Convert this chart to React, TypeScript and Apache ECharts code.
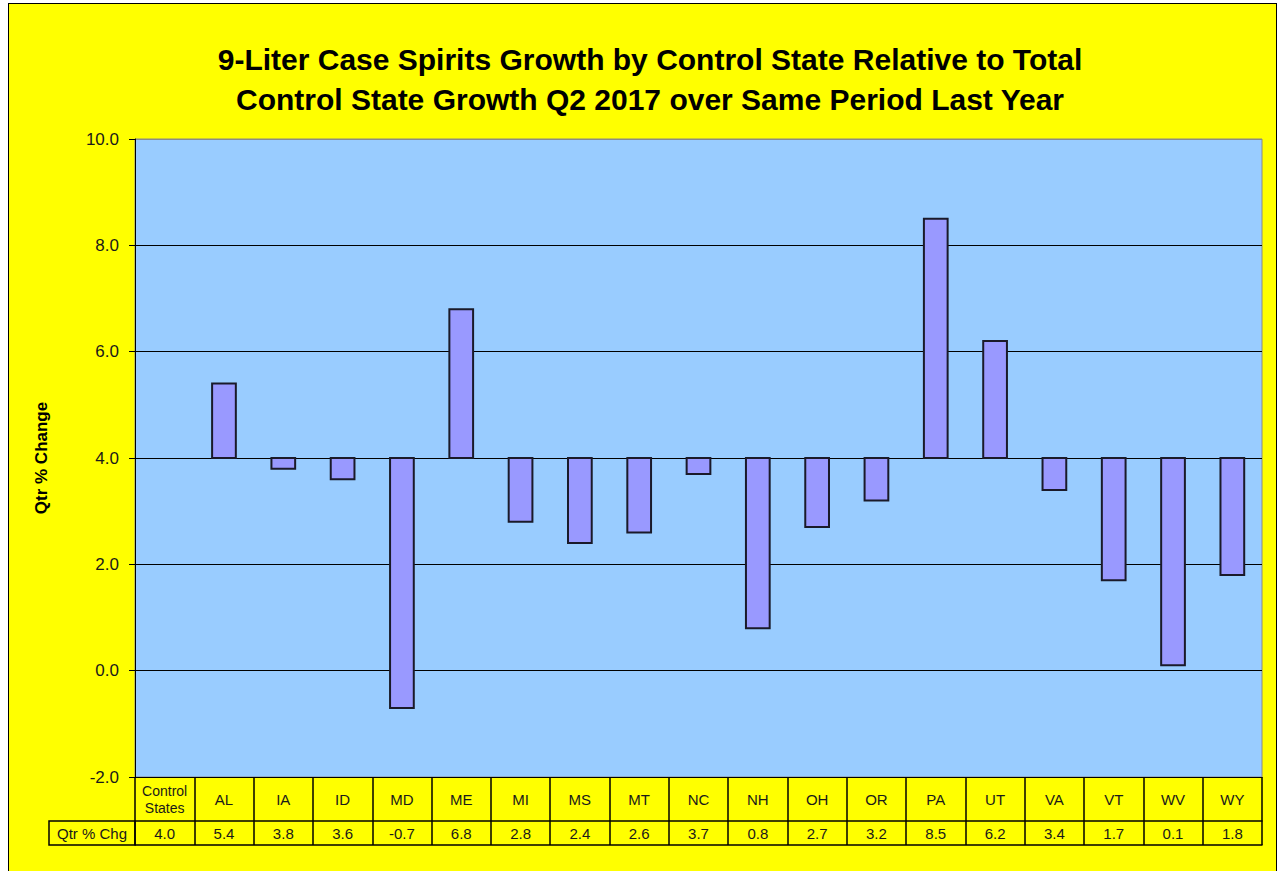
import React, { useEffect, useRef } from "react";
import * as echarts from "echarts";

const TITLE = "9-Liter Case Spirits Growth by Control State Relative to Total\nControl State Growth Q2 2017 over Same Period Last Year";
const Y_NAME = "Qtr % Change";
const ROW_LABEL = "Qtr % Chg";
const categories = ["Control\nStates", "AL", "IA", "ID", "MD", "ME", "MI", "MS", "MT", "NC", "NH", "OH", "OR", "PA", "UT", "VA", "VT", "WV", "WY"];
const values = [4.0, 5.4, 3.8, 3.6, -0.7, 6.8, 2.8, 2.4, 2.6, 3.7, 0.8, 2.7, 3.2, 8.5, 6.2, 3.4, 1.7, 0.1, 1.8];
const BASELINE = values[0];
const Y_MIN = -2;
const Y_MAX = 10;
const Y_STEP = 2;

const FONT = "'Liberation Sans', Arial, sans-serif";
const GRID_LEFT = 135;
const GRID_TOP = 139;
const GRID_RIGHT = 16;
const GRID_BOTTOM = 94;
const ROW1_H = 44;
const ROW2_H = 24;
const LABEL_CELL_W = 86;

export default function App() {
  const ref = useRef<HTMLDivElement>(null);
  useEffect(() => {
    if (!ref.current) return;
    const chart = echarts.init(ref.current, null, { renderer: "svg" });
    const H = 871;
    const axisY = H - GRID_BOTTOM;
    const option: any = {
      animation: false,
      backgroundColor: "transparent",
      textStyle: { fontFamily: FONT },
      title: {
        text: TITLE,
        left: 645,
        textAlign: "center",
        top: 34,
        textStyle: { fontFamily: FONT, fontSize: 30, fontWeight: "bold", color: "#000", lineHeight: 40 },
      },
      grid: {
        left: GRID_LEFT,
        top: GRID_TOP,
        right: GRID_RIGHT,
        bottom: GRID_BOTTOM,
        show: true,
        backgroundColor: "#99CCFF",
        borderColor: "#8a8a8a",
        borderWidth: 1,
      },
      xAxis: [
        {
          type: "category",
          data: categories,
          position: "bottom",
          boundaryGap: true,
          axisLine: { show: true, onZero: false, lineStyle: { color: "#000", width: 1 } },
          axisTick: { show: true, interval: 0, length: ROW1_H, lineStyle: { color: "#000", width: 1.5 } },
          axisLabel: {
            interval: 0,
            margin: ROW1_H / 2,
            verticalAlign: "middle",
            fontSize: 15,
            color: "#1a1a1a",
            fontFamily: FONT,
            lineHeight: 17,
            rich: { s: { fontSize: 14, lineHeight: 17, fontFamily: FONT, color: "#1a1a1a" } },
            formatter: (v: string) => (v.indexOf("\n") >= 0 ? v.split("\n").map((p) => "{s|" + p + "}").join("\n") : v),
          },
        },
        {
          type: "category",
          data: values.map((v) => v.toFixed(1)),
          position: "bottom",
          offset: ROW1_H,
          boundaryGap: true,
          axisLine: { show: true, onZero: false, lineStyle: { color: "#000", width: 1.5 } },
          axisTick: { show: true, interval: 0, length: ROW2_H, lineStyle: { color: "#000", width: 1.5 } },
          axisLabel: {
            interval: 0,
            margin: ROW2_H / 2,
            verticalAlign: "middle",
            fontSize: 15,
            color: "#1a1a1a",
            fontFamily: FONT,
          },
        },
        {
          type: "category",
          data: categories,
          position: "bottom",
          offset: ROW1_H + ROW2_H,
          axisLine: { show: true, onZero: false, lineStyle: { color: "#000", width: 1.5 } },
          axisTick: { show: false },
          axisLabel: { show: false },
        },
      ],
      yAxis: {
        type: "value",
        min: Y_MIN,
        max: Y_MAX,
        interval: Y_STEP,
        name: Y_NAME,
        nameLocation: "middle",
        nameRotate: 90,
        nameGap: 85,
        nameTextStyle: { fontFamily: FONT, fontSize: 17, fontWeight: "bold", color: "#000" },
        axisLine: { show: true, lineStyle: { color: "#000", width: 1 } },
        axisTick: { show: true, length: 6, lineStyle: { color: "#000" } },
        axisLabel: {
          margin: 16,
          fontSize: 17,
          color: "#1a1a1a",
          fontFamily: FONT,
          formatter: (v: number) => v.toFixed(1),
        },
        splitLine: {
          show: true,
          lineStyle: { color: ["#000", "#000", "#000", "#000", "#000", "#000", "#8a8a8a"], width: 1 },
        },
      },
      graphic: [
        {
          type: "rect",
          shape: { x: GRID_LEFT - LABEL_CELL_W, y: axisY + ROW1_H, width: LABEL_CELL_W, height: ROW2_H },
          style: { fill: "none", stroke: "#000", lineWidth: 1.5 },
          z: 10,
        },
        {
          type: "text",
          x: GRID_LEFT - LABEL_CELL_W / 2,
          y: axisY + ROW1_H + ROW2_H / 2,
          style: {
            text: ROW_LABEL,
            fontFamily: FONT,
            fontSize: 15,
            fill: "#1a1a1a",
            align: "center",
            verticalAlign: "middle",
          },
          z: 10,
        },
      ],
      series: [
        {
          type: "custom",
          xAxisIndex: 0,
          data: values.map((v, i) => [i, v]),
          renderItem: (params: any, api: any) => {
            const i = api.value(0);
            const v = api.value(1);
            const p0 = api.coord([i, BASELINE]);
            const p1 = api.coord([i, v]);
            const w = api.size([1, 0])[0] * 0.4;
            const h = Math.abs(p1[1] - p0[1]);
            return {
              type: "rect",
              shape: {
                x: p0[0] - w / 2,
                y: Math.min(p0[1], p1[1]),
                width: w,
                height: h,
              },
              style: { fill: "#9999FF", stroke: "#1a1a2a", lineWidth: h > 0 ? 2 : 0 },
            };
          },
        },
      ],
    };
    chart.setOption(option);
    return () => chart.dispose();
  }, []);

  return (
    <div style={{ position: "absolute", left: 0, top: 0, width: 1278, height: 871, background: "#fff", overflow: "hidden" }}>
      <div
        style={{
          position: "absolute",
          left: 8,
          top: 3,
          width: 1269,
          height: 900,
          background: "#FFFF00",
          border: "1px solid #000",
          boxSizing: "border-box",
        }}
      />
      <div ref={ref} style={{ position: "absolute", left: 0, top: 0, width: 1278, height: 871 }} />
    </div>
  );
}
